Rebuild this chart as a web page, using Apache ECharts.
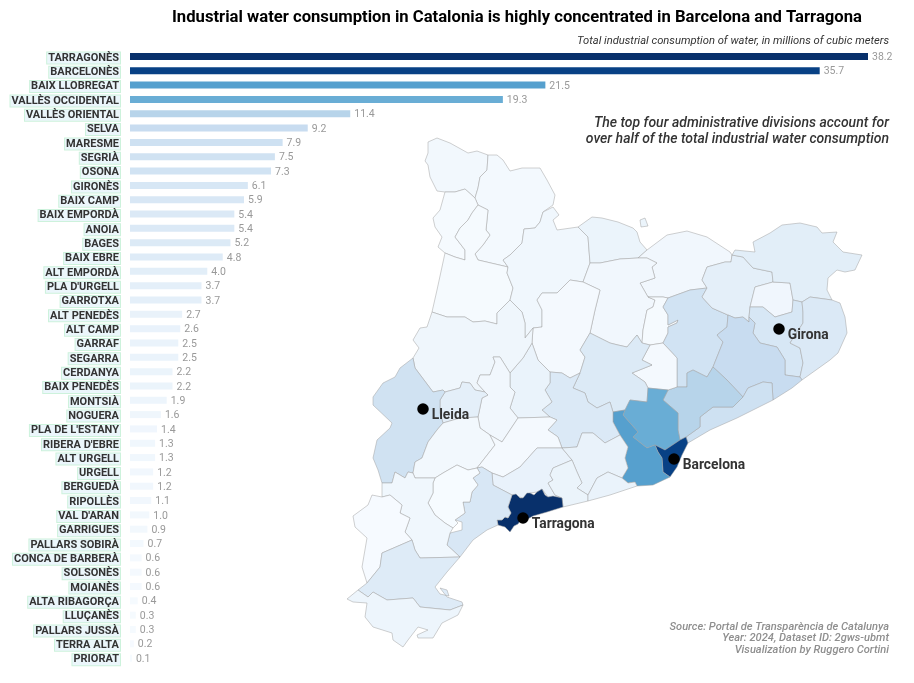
<!DOCTYPE html>
<html><head><meta charset="utf-8">
<style>html,body{margin:0;padding:0;background:#fff}#c{width:914px;height:683px}</style>
<script src="https://cdn.jsdelivr.net/npm/echarts@6/dist/echarts.min.js"></script>
</head><body><div id="c"></div>
<script>
const categories = ["TARRAGONÈS","BARCELONÈS","BAIX LLOBREGAT","VALLÈS OCCIDENTAL","VALLÈS ORIENTAL","SELVA","MARESME","SEGRIÀ","OSONA","GIRONÈS","BAIX CAMP","BAIX EMPORDÀ","ANOIA","BAGES","BAIX EBRE","ALT EMPORDÀ","PLA D'URGELL","GARROTXA","ALT PENEDÈS","ALT CAMP","GARRAF","SEGARRA","CERDANYA","BAIX PENEDÈS","MONTSIÀ","NOGUERA","PLA DE L'ESTANY","RIBERA D'EBRE","ALT URGELL","URGELL","BERGUEDÀ","RIPOLLÈS","VAL D'ARAN","GARRIGUES","PALLARS SOBIRÀ","CONCA DE BARBERÀ","SOLSONÈS","MOIANÈS","ALTA RIBAGORÇA","LLUÇANÈS","PALLARS JUSSÀ","TERRA ALTA","PRIORAT"];
const values = [38.2,35.7,21.5,19.3,11.4,9.2,7.9,7.5,7.3,6.1,5.9,5.4,5.4,5.2,4.8,4.0,3.7,3.7,2.7,2.6,2.5,2.5,2.2,2.2,1.9,1.6,1.4,1.3,1.3,1.2,1.2,1.1,1.0,0.9,0.7,0.6,0.6,0.6,0.4,0.3,0.3,0.2,0.1];
const cities = [["Girona",779,329],["Lleida",423,409],["Barcelona",674,459],["Tarragona",523,518]];
const blues = ["#f7fbff","#deebf7","#c6dbef","#9ecae1","#6baed6","#4292c6","#2171b5","#08519c","#08306b"];

/* Outlines of the comarques */
const outlines = {
"VAL D'ARAN":[[[428,142],[437,138],[450,143],[468,153],[477,151],[488,155],[487,170],[480,177],[478,188],[475,198],[465,189],[455,192],[445,192],[437,191],[430,177],[428,165],[425,161],[428,153]]],
"PALLARS SOBIRÀ":[[[488,155],[497,155],[503,160],[510,171],[522,168],[540,168],[547,180],[555,195],[553,205],[543,212],[540,222],[535,228],[524,229],[522,243],[510,255],[503,260],[508,267],[478,260],[475,254],[483,245],[490,235],[486,230],[488,210],[478,205],[475,198],[478,188],[480,177],[487,170]]],
"ALTA RIBAGORÇA":[[[475,198],[478,205],[472,213],[468,220],[460,228],[455,237],[465,250],[465,260],[455,257],[445,253],[438,247],[442,237],[435,227],[433,218],[440,210],[445,192],[455,192],[465,189]]],
"PALLARS JUSSÀ":[[[478,205],[488,210],[486,230],[490,235],[483,245],[475,254],[478,260],[508,267],[507,273],[513,288],[510,300],[497,313],[497,324],[485,321],[473,322],[465,317],[447,317],[432,312],[437,290],[445,253],[455,257],[465,260],[465,250],[455,237],[460,228],[468,220],[472,213]]],
"ALT URGELL":[[[524,229],[535,228],[540,222],[543,212],[553,207],[559,215],[553,220],[557,230],[578,227],[588,237],[590,263],[583,282],[570,280],[557,293],[542,293],[537,300],[542,310],[542,327],[533,328],[525,338],[525,323],[522,312],[510,300],[513,288],[507,273],[508,267],[503,260],[510,255],[522,243]]],
"CERDANYA":[[[578,227],[592,217],[602,218],[618,222],[633,228],[637,232],[640,242],[647,250],[638,258],[620,259],[600,263],[590,263],[588,237]],[[640,220],[645,218],[648,226],[641,227]]],
"RIPOLLÈS":[[[647,250],[667,235],[687,231],[707,237],[730,252],[732,255],[731,262],[725,262],[707,267],[702,280],[707,288],[690,290],[668,298],[663,297],[648,297],[640,283],[655,278],[652,267],[657,263],[647,258],[638,258]]],
"BERGUEDÀ":[[[590,263],[600,263],[620,259],[638,258],[647,258],[657,263],[652,267],[655,278],[640,283],[648,297],[655,300],[653,307],[647,310],[643,330],[642,343],[637,335],[627,347],[618,345],[610,343],[590,333],[595,310],[600,290],[583,282]]],
"SOLSONÈS":[[[570,280],[583,282],[600,290],[595,310],[590,333],[580,350],[585,357],[580,373],[570,378],[562,373],[550,372],[538,360],[532,343],[533,328],[542,327],[542,310],[537,300],[542,293],[557,293]]],
"LLUÇANÈS":[[[648,297],[663,297],[668,298],[663,307],[668,315],[668,325],[678,320],[677,323],[668,327],[668,333],[663,343],[650,345],[642,343],[643,330],[647,310],[653,307],[655,300]]],
"OSONA":[[[663,307],[668,298],[690,290],[707,288],[702,297],[712,308],[728,315],[727,327],[717,335],[723,342],[713,367],[707,377],[693,370],[687,373],[687,387],[677,387],[677,358],[663,343],[668,333],[668,327],[677,323],[678,320],[668,325],[668,315]]],
"GARROTXA":[[[702,280],[707,267],[725,262],[731,262],[732,255],[743,257],[753,268],[772,272],[773,282],[755,287],[750,307],[749,317],[749,322],[743,317],[735,318],[728,315],[712,308],[702,297],[707,288]]],
"PLA DE L'ESTANY":[[[755,287],[773,282],[790,283],[793,300],[792,312],[775,317],[763,307],[750,307]]],
"ALT EMPORDÀ":[[[732,255],[735,250],[755,252],[753,242],[770,233],[782,225],[800,223],[817,227],[822,233],[837,232],[833,242],[843,252],[862,255],[855,270],[845,272],[837,270],[828,278],[827,290],[832,300],[810,297],[802,302],[793,300],[790,283],[773,282],[772,272],[753,268],[743,257]]],
"GIRONÈS":[[[750,307],[763,307],[775,317],[792,312],[793,300],[802,302],[803,312],[803,323],[790,343],[800,348],[803,363],[800,377],[785,375],[785,360],[777,347],[760,343],[753,333],[755,323],[749,317]]],
"BAIX EMPORDÀ":[[[802,302],[810,297],[832,300],[840,303],[845,317],[847,333],[838,353],[830,360],[802,380],[800,377],[803,363],[800,348],[790,343],[803,323],[803,312]]],
"SELVA":[[[728,315],[735,318],[743,317],[749,322],[749,317],[755,323],[753,333],[760,343],[777,347],[785,360],[785,375],[800,377],[802,380],[792,388],[773,400],[772,383],[763,382],[748,388],[743,397],[727,380],[713,367],[723,342],[717,335],[727,327]]],
"MARESME":[[[743,397],[748,388],[763,382],[772,383],[773,400],[737,418],[710,430],[688,443],[686,437],[700,427],[700,417],[713,407],[733,407]]],
"VALLÈS ORIENTAL":[[[668,390],[677,387],[687,387],[687,373],[693,370],[707,377],[713,367],[727,380],[743,397],[733,407],[713,407],[700,417],[700,427],[686,437],[680,440],[678,430],[678,413],[663,400]]],
"MOIANÈS":[[[650,345],[663,343],[677,358],[677,387],[668,390],[648,388],[645,382],[632,373],[652,365],[642,360]]],
"BAGES":[[[650,345],[642,360],[652,365],[632,373],[645,382],[648,388],[647,402],[630,400],[625,410],[613,412],[610,402],[597,408],[588,402],[585,393],[573,388],[580,373],[585,357],[580,350],[590,333],[610,343],[618,345],[627,347],[637,335],[642,343]]],
"VALLÈS OCCIDENTAL":[[[648,388],[668,390],[663,400],[678,413],[678,430],[680,440],[665,450],[655,445],[647,448],[633,437],[638,432],[623,415],[625,410],[630,400],[647,402]]],
"BARCELONÈS":[[[680,440],[686,437],[688,443],[682,455],[677,467],[670,477],[663,472],[662,458],[658,452],[655,445],[665,450]]],
"BAIX LLOBREGAT":[[[613,422],[613,412],[625,410],[623,415],[638,432],[633,437],[647,448],[655,445],[658,452],[662,458],[663,472],[670,477],[653,485],[637,486],[635,482],[628,483],[622,478],[628,468],[625,458],[628,447],[620,435]]],
"ANOIA":[[[550,372],[562,373],[570,378],[580,373],[573,388],[585,393],[588,402],[597,408],[610,402],[613,412],[613,422],[620,435],[605,443],[593,433],[582,433],[577,447],[562,448],[558,437],[548,430],[557,420],[550,417],[542,410],[552,402],[545,390],[550,383]]],
"SEGARRA":[[[532,343],[538,360],[550,372],[550,383],[545,390],[552,402],[542,410],[550,417],[518,418],[510,408],[515,392],[510,387],[510,373],[523,358]]],
"NOGUERA":[[[432,312],[447,317],[465,317],[473,322],[485,321],[497,324],[497,313],[510,300],[522,312],[525,323],[525,338],[533,328],[532,343],[523,358],[510,373],[500,357],[493,357],[495,362],[490,375],[480,375],[477,383],[485,392],[475,390],[470,383],[462,382],[460,388],[445,392],[443,390],[433,392],[415,368],[413,358],[419,348],[413,340],[420,328],[427,327]]],
"URGELL":[[[510,373],[510,387],[515,392],[510,408],[518,418],[502,442],[490,435],[480,428],[478,417],[482,398],[488,395],[485,392],[477,383],[480,375],[490,375],[495,362],[493,357],[500,357]]],
"PLA D'URGELL":[[[440,400],[445,392],[460,388],[462,382],[470,383],[475,390],[485,392],[488,395],[482,398],[478,417],[460,418],[443,423],[440,413]]],
"SEGRIÀ":[[[413,358],[415,368],[433,392],[443,390],[445,392],[440,400],[440,413],[443,423],[437,430],[428,442],[422,458],[415,462],[413,473],[408,472],[405,478],[395,472],[392,483],[382,483],[378,470],[373,458],[377,440],[390,428],[392,423],[373,405],[373,397],[383,383],[395,377],[400,368]]],
"GARRIGUES":[[[443,423],[460,418],[478,417],[480,428],[490,435],[495,445],[477,468],[468,470],[457,465],[443,473],[435,478],[415,478],[413,473],[415,462],[422,458],[428,442],[437,430]]],
"CONCA DE BARBERÀ":[[[495,445],[490,435],[502,442],[518,418],[550,417],[557,420],[548,430],[558,437],[562,448],[537,448],[520,467],[503,477],[492,473],[482,467],[477,468]]],
"ALT CAMP":[[[492,473],[503,477],[520,467],[537,448],[562,448],[572,460],[553,468],[550,475],[553,480],[548,483],[555,495],[562,498],[548,497],[542,489],[537,492],[530,493],[523,498],[512,495],[493,485]]],
"ALT PENEDÈS":[[[562,448],[577,447],[582,433],[593,433],[605,443],[620,435],[628,447],[625,458],[628,468],[622,478],[608,472],[597,478],[588,495],[577,488],[582,483],[577,472],[572,460]]],
"BAIX PENEDÈS":[[[572,460],[577,472],[582,483],[577,488],[588,495],[588,501],[563,507],[562,498],[555,495],[548,483],[553,480],[550,475],[553,468]]],
"GARRAF":[[[588,495],[597,478],[608,472],[622,478],[628,483],[635,482],[637,486],[610,495],[588,501]]],
"TARRAGONÈS":[[[512,495],[516,494],[520,498],[523,498],[527,493],[530,493],[534,495],[537,492],[542,489],[545,495],[548,497],[553,496],[562,498],[563,507],[547,512],[533,516],[526,520],[522,518],[518,524],[514,526],[510,532],[505,527],[498,525],[497,520],[502,520],[505,517],[508,518],[511,513],[508,507]]],
"BAIX CAMP":[[[492,473],[493,485],[512,495],[508,507],[511,513],[508,518],[505,517],[502,520],[497,520],[498,525],[487,530],[473,540],[460,557],[447,545],[450,533],[462,530],[462,522],[455,520],[465,513],[463,502],[470,502],[472,492],[478,485],[473,478],[480,473],[477,468],[482,467]]],
"PRIORAT":[[[435,478],[443,473],[457,465],[468,470],[477,468],[480,473],[473,478],[478,485],[472,492],[470,502],[463,502],[465,513],[455,520],[458,523],[453,528],[445,523],[435,515],[428,503],[433,493],[433,483]]],
"RIBERA D'EBRE":[[[415,478],[435,478],[433,483],[433,493],[428,503],[435,515],[445,523],[453,528],[450,533],[447,545],[460,557],[420,558],[415,550],[412,540],[405,532],[410,518],[400,513],[402,505],[390,495],[382,497],[382,483],[392,483],[395,472],[405,478],[408,472],[413,473]]],
"TERRA ALTA":[[[382,497],[372,495],[368,505],[353,516],[355,527],[367,538],[362,567],[367,583],[380,567],[382,553],[412,540],[405,532],[410,518],[400,513],[402,505],[390,495]]],
"BAIX EBRE":[[[412,540],[415,550],[420,558],[460,557],[447,572],[435,587],[440,594],[449,596],[447,590],[440,588],[447,597],[462,602],[463,605],[450,610],[420,607],[413,598],[387,600],[373,592],[368,597],[358,590],[367,583],[380,567],[382,553]]],
"MONTSIÀ":[[[358,590],[368,597],[373,592],[387,600],[413,598],[420,607],[450,610],[463,605],[458,615],[442,623],[433,638],[418,638],[417,635],[428,630],[418,627],[408,640],[403,647],[393,640],[392,633],[373,627],[365,617],[367,603],[353,602],[347,599]]]
};

function bluesColor(v){
  const t = v / 38.2 * (blues.length - 1);
  const i = Math.min(Math.floor(t), blues.length - 2), f = t - i;
  const a = blues[i], b = blues[i + 1];
  let s = "#";
  for (let k = 1; k < 7; k += 2) {
    const c = Math.round(parseInt(a.substr(k, 2), 16) * (1 - f) + parseInt(b.substr(k, 2), 16) * f);
    s += c.toString(16).padStart(2, "0");
  }
  return s;
}

const geojson = {type:"FeatureCollection",features:Object.keys(outlines).map(n=>({
  type:"Feature",properties:{name:n},
  geometry:{type:"MultiPolygon",coordinates:outlines[n].map(r=>[r.concat([r[0]])])}
}))};
echarts.registerMap("catalunya", geojson);

const font = "Roboto";
const chart = echarts.init(document.getElementById("c"), null, {renderer:"canvas"});
chart.setOption({
  animation:false,
  backgroundColor:"#fff",
  title:{text:"Industrial water consumption in Catalonia is highly concentrated in Barcelona and Tarragona",left:167,top:4.5,
     textStyle:{fontFamily:font,fontSize:16.65,fontWeight:"bold",color:"#000"}},
  graphic:[
    {type:"text",x:889,y:41,z:20,silent:true,style:{text:"Total industrial consumption of water, in millions of cubic meters",align:"right",verticalAlign:"middle",
      font:"italic 400 11.2px Roboto",fill:"#333"}},
    {type:"text",x:889,y:131,z:20,silent:true,style:{text:"The top four administrative divisions account for\nover half of the total industrial water consumption",align:"right",verticalAlign:"middle",
      font:"italic 500 14px Roboto",lineHeight:16,fill:"#333"}},
    {type:"text",x:889,y:638.5,z:20,silent:true,style:{text:"Source: Portal de Transparència de Catalunya\nYear: 2024, Dataset ID: 2gws-ubmt\nVisualization by Ruggero Cortini",align:"right",verticalAlign:"middle",
      font:"italic 500 11.1px Roboto",lineHeight:11.5,fill:"#8f8f8f"}}
  ],
  grid:[{left:130,top:49.3,width:738,height:616},{left:130,top:50.8,width:738,height:616}],
  xAxis:[{type:"value",min:0,max:38.2,show:false,gridIndex:0},{type:"value",min:0,max:38.2,show:false,gridIndex:1}],
  yAxis:[
    {type:"category",inverse:true,data:categories,gridIndex:0,axisLine:{show:false},axisTick:{show:false},axisLabel:{show:false}},
    {type:"category",inverse:true,data:categories,gridIndex:1,axisLine:{show:false},axisTick:{show:false},
     axisLabel:{interval:0,margin:10,fontFamily:font,fontSize:11,fontWeight:"bold",color:"#333",
      backgroundColor:"#ebf6fb",borderColor:"#cdf2dc",borderWidth:1,padding:[0,1,0,1]}}
  ],
  geo:{map:"catalunya",silent:true,roam:false,
    projection:{project:p=>[p[0],p[1]],unproject:p=>[p[0],p[1]]},
    boundingCoords:[[0,0],[914,683]],left:0,top:0,width:914,height:683,
    itemStyle:{borderColor:"#a0a0a0",borderWidth:0.5,areaColor:"#f7fbff"},
    label:{show:false},
    regions:categories.map((n,i)=>({name:n,silent:true,itemStyle:{areaColor:bluesColor(values[i]),borderColor:"#a0a0a0",borderWidth:0.5}}))
  },
  series:[
    {type:"bar",barWidth:7,silent:true,xAxisIndex:0,yAxisIndex:0,
     data:values.map(v=>({value:v,itemStyle:{color:bluesColor(v)}})),
     label:{show:true,position:"right",distance:4,offset:[0,1],formatter:p=>p.value.toFixed(1),fontFamily:font,fontSize:10.5,color:"#999"}},
    {type:"scatter",coordinateSystem:"geo",geoIndex:0,silent:true,symbol:"circle",symbolSize:11.5,z:10,
     itemStyle:{color:"#000",opacity:1},
     data:cities.map(c=>({name:c[0],value:[c[1],c[2]]})),
     label:{show:true,position:"right",distance:3,offset:[0,7],formatter:"{b}",fontFamily:font,fontSize:13.8,fontWeight:"bold",color:"#333",opacity:1}}
  ]
});
</script></body></html>
